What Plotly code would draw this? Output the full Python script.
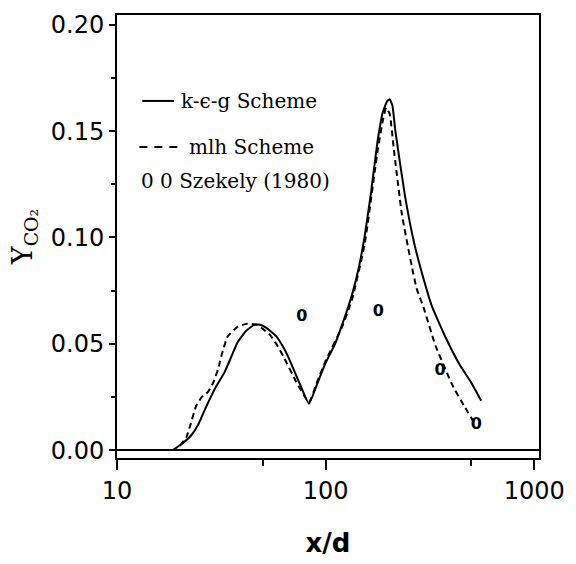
import numpy as np
import plotly.graph_objects as go

# ---- data ----
keg_x = [18.5, 20.5, 22.7, 24.5, 26.5, 29.5, 32.8, 35.0, 37.8, 41.5, 45.4, 48.5, 52.0, 58.2, 63.0, 67.0, 74.6,
         83.2, 91.0, 100.0, 111.0, 120.0, 134.0, 144.0, 154.0, 165.0, 177.0, 188.0, 197.0, 203.0, 209.0, 216.0,
         240.0, 267.0, 298.0, 323.0, 380.0, 440.0, 500.0, 557.0]
keg_y = [0.000, 0.003, 0.007, 0.012, 0.0195, 0.029, 0.0367, 0.043, 0.0506, 0.056, 0.0589, 0.0590, 0.0575, 0.0534,
         0.048, 0.0427, 0.032, 0.0218, 0.031, 0.041, 0.050, 0.059, 0.0733, 0.0855, 0.1008, 0.121, 0.1446, 0.159,
         0.164, 0.165, 0.162, 0.150, 0.1197, 0.0965, 0.0789, 0.0677, 0.052, 0.040, 0.0316, 0.0232]

mlh_x = [20.0, 21.5, 22.5, 24.0, 25.5, 27.3, 29.0, 30.5, 32.0, 33.9, 37.8, 42.0, 46.9, 50.0, 54.0, 58.0, 62.8,
         72.4, 83.2, 91.0, 100.0, 120.0, 134.0, 154.0, 177.0, 188.0, 195.0, 203.0, 212.0, 232.0, 259.0, 273.0,
         295.0, 336.0, 407.0, 460.0, 515.0]
mlh_y = [0.002, 0.006, 0.012, 0.021, 0.025, 0.0274, 0.032, 0.038, 0.046, 0.0534, 0.058, 0.0594, 0.0589, 0.057,
         0.0543, 0.050, 0.044, 0.032, 0.0225, 0.032, 0.042, 0.058, 0.071, 0.097, 0.140, 0.155, 0.161, 0.158, 0.142,
         0.111, 0.0863, 0.076, 0.067, 0.0492, 0.0302, 0.021, 0.013]

exp_x = [77, 179, 354, 528]
exp_y = [0.0626, 0.065, 0.037, 0.0116]

x_ticks = [10, 100, 1000]
x_tick_text = ["10", "100", "1000"]
y_ticks = [0.0, 0.05, 0.10, 0.15, 0.20]
y_tick_text = ["0.00", "0.05", "0.10", "0.15", "0.20"]

fig = go.Figure()
fig.add_trace(go.Scatter(x=keg_x, y=keg_y, mode="lines",
                         line=dict(color="black", width=2, shape="spline", smoothing=0.4),
                         name="k-ϵ-g Scheme", showlegend=False))
fig.add_trace(go.Scatter(x=mlh_x, y=mlh_y, mode="lines",
                         line=dict(color="black", width=2, dash="6px,4px", shape="spline", smoothing=0.4),
                         name="mlh Scheme", showlegend=False))
fig.add_trace(go.Scatter(x=exp_x, y=exp_y, mode="text", text=["<b>0</b>"] * len(exp_x),
                         textfont=dict(family="DejaVu Sans", size=16, color="black"),
                         textposition="middle center", name="Szekely (1980)", showlegend=False))

# legend drawn manually (paper coordinates)
fig.add_shape(type="line", xref="paper", yref="paper", x0=0.060, x1=0.135, y0=0.806, y1=0.806,
              line=dict(color="black", width=2))
fig.add_shape(type="line", xref="paper", yref="paper", x0=0.053, x1=0.158, y0=0.702, y1=0.702,
              line=dict(color="black", width=2, dash="8px,7px"))
leg_font = dict(family="DejaVu Serif", size=20, color="black")
fig.add_annotation(xref="paper", yref="paper", x=0.146, y=0.806, text="k-ϵ-g Scheme", showarrow=False,
                   xanchor="left", yanchor="middle", font=leg_font)
fig.add_annotation(xref="paper", yref="paper", x=0.165, y=0.702, text="mlh Scheme", showarrow=False,
                   xanchor="left", yanchor="middle", font=leg_font)
fig.add_annotation(xref="paper", yref="paper", x=0.053, y=0.626, text="0 0 Szekely (1980)", showarrow=False,
                   xanchor="left", yanchor="middle", font=leg_font)

fig.update_layout(
    width=576, height=564,
    margin=dict(l=117, r=28, t=11, b=104),
    paper_bgcolor="white", plot_bgcolor="white",
    showlegend=False,
    xaxis=dict(
        type="log", range=[1.0, np.log10(1054)],
        tickvals=x_ticks, ticktext=x_tick_text,
        ticks="outside", ticklen=10, tickwidth=2, tickcolor="black",
        minor=dict(tickvals=[50, 500], ticks="outside", ticklen=6, tickwidth=2, tickcolor="black", showgrid=False),
        showline=True, linecolor="black", linewidth=2, mirror=True,
        showgrid=False, zeroline=False,
        tickfont=dict(family="DejaVu Sans", size=24, color="black"),
        title=dict(text="<b>x/d</b>", font=dict(family="DejaVu Sans", size=26, color="black"), standoff=30),
    ),
    yaxis=dict(
        range=[-0.0037, 0.2046],
        tickvals=y_ticks, ticktext=y_tick_text,
        ticks="outside", ticklen=6, tickwidth=2, tickcolor="black",
        minor=dict(dtick=0.025, tick0=0, ticks="outside", ticklen=4, tickwidth=1.5, tickcolor="black", showgrid=False),
        showline=True, linecolor="black", linewidth=2, mirror=True,
        showgrid=False, zeroline=True, zerolinecolor="black", zerolinewidth=2,
        tickfont=dict(family="DejaVu Sans", size=24, color="black"),
        title=dict(text="Y<sub>CO₂</sub>", font=dict(family="DejaVu Serif", size=27, color="black"), standoff=10),
    ),
)

fig.write_html("out.html")
